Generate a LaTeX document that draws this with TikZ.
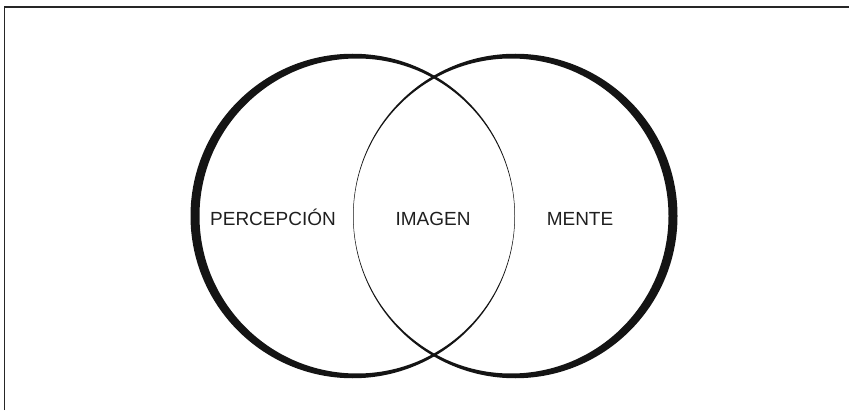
\documentclass[tikz,border=0pt]{standalone}
\usepackage{fontspec}
\setmainfont{Liberation Sans}
\tikzset{
  lbl/.style={anchor=base, inner sep=0pt, text=black!88,
    font=\fontsize{19}{22}\selectfont},
  ring/.style={fill=black!92, even odd rule}
}
\begin{document}
\begin{tikzpicture}[x=1pt, y=1pt]
      \useasboundingbox (0,0) rectangle (849,410);

      % Draw the frame (top and left edge only)
      \draw[line width=1.5pt, black!85] (4.7,0) -- (4.7,403) -- (849,403);

      % Draw the two rings, thick outside and thin inside
      \fill[ring] (352.75,194) circle (162.25pt) (357,194) circle (157.5pt);
      \fill[ring] (515.25,194) circle (162.25pt) (511,194) circle (157.5pt);

      % Add the labels
      \node[lbl] (percepcion) at (273,184.5) {PERCEPCIÓN};
      \node[lbl] (imagen) at (433,184.5) {IMAGEN};
      \node[lbl] (mente) at (580,184.5) {MENTE};
    \end{tikzpicture}
\end{document}
